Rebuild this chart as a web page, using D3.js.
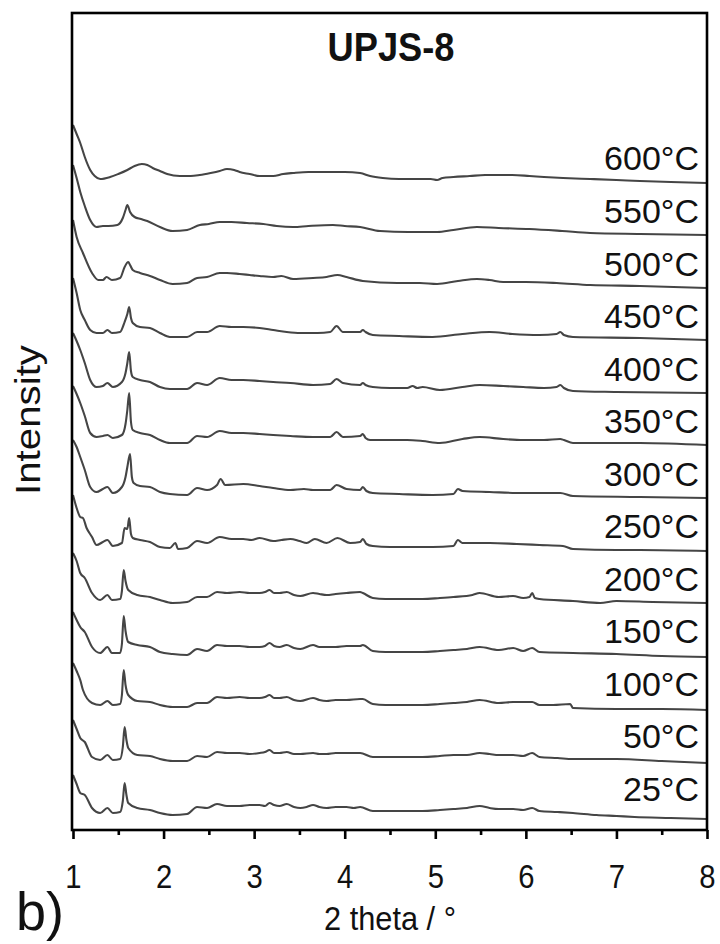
<!DOCTYPE html>
<html>
<head>
<meta charset="utf-8">
<script src="https://cdn.jsdelivr.net/npm/d3@7"></script>
<style>
  html, body { margin: 0; padding: 0; background: #fff; }
  svg { display: block; font-family: "Liberation Sans", Arial, sans-serif; }
</style>
</head>
<body>
<svg id="chart" width="720" height="944"></svg>
<script>
// ---------------- DATA ----------------
const temperatures = ["25°C","50°C","100°C","150°C","200°C","250°C","300°C","350°C","400°C","450°C","500°C","550°C","600°C"];
const offsets = [0, 53, 106, 159, 212, 265, 318, 371, 424, 477, 530, 583, 636];
const xTicks = [1, 2, 3, 4, 5, 6, 7, 8];
const xMinorTicks = [1.5, 2.5, 3.5, 4.5, 5.5, 6.5, 7.5];

const pattern25 = [[1.00,40],[1.04,31],[1.08,22],[1.13,20],[1.21,7],[1.30,2],[1.38,7],[1.44,2],[1.52,3],[1.55,14],[1.57,32],[1.59,20],[1.61,12],[1.71,7],[1.85,5],[1.96,2],[2.10,0],[2.26,1],[2.37,8],[2.48,7],[2.59,11],[2.70,9],[2.84,9],[2.95,10],[3.06,10],[3.12,9],[3.17,12],[3.22,10],[3.28,9],[3.36,11],[3.44,8],[3.51,7],[3.58,8],[3.65,10],[3.72,8],[3.80,7],[3.90,8],[4.02,8],[4.10,7],[4.17,8],[4.31,4],[4.45,4],[4.60,4],[4.72,4],[4.86,4],[5.05,5],[5.20,6],[5.35,7],[5.49,9],[5.60,7],[5.70,6],[5.86,6],[5.97,5],[6.07,7],[6.15,4],[6.35,3],[6.52,2],[6.78,0],[7.00,-1],[7.20,-2],[7.60,-3],[8.00,-4]];
const pattern50 = [[1.00,42],[1.04,33],[1.08,24],[1.13,20],[1.21,5],[1.30,2],[1.38,7],[1.44,2],[1.52,3],[1.55,15],[1.57,35],[1.59,22],[1.61,14],[1.71,7],[1.85,6],[1.96,3],[2.10,1],[2.26,1],[2.37,6],[2.48,5],[2.59,10],[2.70,9],[2.84,9],[2.95,8],[3.06,9],[3.12,10],[3.17,12],[3.22,9],[3.28,9],[3.36,10],[3.44,8],[3.51,8],[3.65,9],[3.72,8],[3.80,8],[3.90,9],[4.02,9],[4.17,9],[4.31,5],[4.45,5],[4.60,5],[4.86,5],[5.05,6],[5.20,7],[5.35,7],[5.49,9],[5.60,8],[5.70,7],[5.86,7],[5.97,6],[6.07,9],[6.15,5],[6.35,4],[6.52,3],[7.00,3],[7.50,1],[8.00,-1]];
const pattern100 = [[1.00,46],[1.04,38],[1.08,29],[1.11,19],[1.21,6],[1.30,4],[1.38,8],[1.44,4],[1.52,5],[1.54,14],[1.56,39],[1.58,24],[1.61,14],[1.71,8],[1.85,7],[1.96,4],[2.10,2],[2.26,2],[2.37,6],[2.48,6],[2.59,12],[2.70,11],[2.84,12],[2.95,11],[3.06,11],[3.12,12],[3.17,14],[3.22,11],[3.28,11],[3.36,12],[3.44,9],[3.51,8],[3.65,11],[3.72,9],[3.80,8],[3.90,9],[4.02,9],[4.17,10],[4.20,10],[4.31,5],[4.45,4],[4.60,4],[4.86,4],[5.05,5],[5.20,6],[5.35,7],[5.49,9],[5.70,6],[5.86,7],[6.07,7],[6.15,4],[6.30,4],[6.49,5],[6.52,1],[7.00,0],[7.50,0],[8.00,-1]];
const pattern150 = [[1.00,44],[1.04,36],[1.08,29],[1.13,24],[1.21,9],[1.30,3],[1.38,9],[1.43,3],[1.52,3],[1.54,12],[1.56,40],[1.58,25],[1.61,14],[1.71,11],[1.85,9],[1.96,4],[2.10,2],[2.26,1],[2.37,7],[2.48,5],[2.59,11],[2.70,10],[2.84,10],[2.95,9],[3.06,9],[3.12,10],[3.17,13],[3.22,10],[3.28,9],[3.36,11],[3.44,8],[3.51,7],[3.65,11],[3.72,9],[3.80,9],[3.90,9],[4.02,10],[4.17,10],[4.20,11],[4.31,5],[4.45,4],[4.60,4],[4.86,4],[5.05,5],[5.20,6],[5.35,7],[5.49,9],[5.70,6],[5.86,8],[5.97,5],[6.07,8],[6.15,4],[6.52,3],[7.00,2],[7.50,0],[8.00,-1]];
const pattern200 = [[1.00,50],[1.04,42],[1.08,30],[1.13,25],[1.21,10],[1.30,3],[1.38,8],[1.43,3],[1.52,4],[1.54,12],[1.56,33],[1.58,22],[1.61,13],[1.71,8],[1.85,6],[1.96,3],[2.10,0],[2.26,1],[2.37,6],[2.48,6],[2.59,11],[2.70,10],[2.84,11],[2.95,10],[3.06,10],[3.12,11],[3.17,13],[3.22,10],[3.28,10],[3.36,11],[3.44,8],[3.51,7],[3.65,10],[3.72,9],[3.80,8],[3.90,9],[4.02,10],[4.17,11],[4.20,10],[4.31,5],[4.45,4],[4.60,4],[4.86,4],[5.05,5],[5.20,6],[5.41,8],[5.49,10],[5.70,6],[5.86,7],[5.97,5],[6.04,6],[6.07,10],[6.10,5],[6.15,4],[6.52,2],[6.82,0],[7.00,2],[7.40,1],[8.00,0]];
const pattern250 = [[1.00,55],[1.04,42],[1.08,33],[1.11,32],[1.15,22],[1.21,13],[1.26,5],[1.33,8],[1.38,10],[1.44,4],[1.54,7],[1.57,22],[1.60,21],[1.62,32],[1.64,16],[1.66,12],[1.74,10],[1.85,8],[1.96,3],[2.07,2],[2.13,7],[2.16,1],[2.26,2],[2.37,9],[2.48,7],[2.62,13],[2.75,11],[2.88,11],[2.97,10],[3.06,12],[3.21,9],[3.30,10],[3.40,11],[3.50,9],[3.58,7],[3.67,11],[3.80,7],[3.92,12],[4.06,7],[4.17,8],[4.20,11],[4.24,6],[4.31,4],[4.50,3],[4.69,3],[4.97,3],[5.20,4],[5.25,10],[5.30,7],[5.45,7],[5.60,7],[5.90,6],[6.15,5],[6.41,4],[6.52,1],[7.00,0],[7.26,0],[8.00,-1]];
const pattern300 = [[1.00,57],[1.04,50],[1.08,40],[1.13,27],[1.19,10],[1.26,5],[1.33,8],[1.38,10],[1.44,4],[1.54,10],[1.58,20],[1.60,30],[1.63,43],[1.65,20],[1.67,14],[1.74,11],[1.85,10],[1.96,5],[2.07,3],[2.26,2],[2.37,9],[2.48,7],[2.59,12],[2.63,18],[2.68,12],[2.88,13],[3.06,11],[3.21,9],[3.40,7],[3.55,8],[3.65,7],[3.84,7],[3.91,12],[4.02,8],[4.17,7],[4.20,10],[4.24,6],[4.31,4],[4.60,3],[4.97,2],[5.20,3],[5.25,8],[5.30,6],[5.60,5],[5.97,4],[6.20,4],[6.38,4],[6.52,1],[7.26,0],[8.00,-1]];
const pattern350 = [[1.00,58],[1.04,50],[1.08,41],[1.13,28],[1.19,11],[1.26,7],[1.33,8],[1.38,9],[1.44,6],[1.54,9],[1.58,20],[1.60,34],[1.62,51],[1.64,22],[1.66,14],[1.74,11],[1.85,9],[1.96,4],[2.07,1],[2.26,1],[2.37,8],[2.48,7],[2.62,13],[2.75,11],[2.88,11],[3.06,10],[3.21,9],[3.40,8],[3.65,7],[3.84,7],[3.91,12],[3.98,7],[4.17,8],[4.20,10],[4.23,6],[4.28,4],[4.50,4],[4.69,4],[4.86,3],[5.05,1],[5.30,5],[5.49,7],[5.75,5],[5.97,4],[6.20,4],[6.38,5],[6.42,4],[6.52,1],[7.26,1],[8.00,-1]];
const pattern400 = [[1.00,58],[1.04,50],[1.08,41],[1.13,28],[1.19,11],[1.26,4],[1.33,5],[1.38,8],[1.44,4],[1.54,9],[1.58,18],[1.60,28],[1.62,39],[1.64,20],[1.66,14],[1.74,11],[1.85,9],[1.96,4],[2.07,2],[2.26,2],[2.37,8],[2.48,6],[2.62,13],[2.75,11],[2.88,11],[3.06,10],[3.21,9],[3.40,8],[3.65,6],[3.84,7],[3.91,12],[3.98,8],[4.17,6],[4.20,8],[4.23,6],[4.31,4],[4.50,3],[4.69,3],[4.75,5],[4.80,3],[4.86,4],[5.05,1],[5.30,4],[5.49,6],[5.75,5],[5.97,4],[6.20,3],[6.34,4],[6.38,6],[6.42,3],[6.52,0],[7.00,-1],[8.00,-2]];
const pattern450 = [[1.00,60],[1.04,45],[1.08,28],[1.13,18],[1.19,8],[1.26,5],[1.33,5],[1.38,8],[1.43,5],[1.52,6],[1.57,16],[1.60,24],[1.62,31],[1.64,20],[1.66,15],[1.74,11],[1.85,10],[1.96,5],[2.07,1],[2.26,1],[2.37,6],[2.48,6],[2.62,12],[2.75,11],[2.88,11],[3.06,10],[3.21,8],[3.36,6],[3.51,5],[3.70,5],[3.84,6],[3.91,12],[3.98,6],[4.17,6],[4.20,8],[4.23,6],[4.31,3],[4.60,2],[4.97,1],[5.30,4],[5.60,6],[5.85,4],[6.15,3],[6.34,4],[6.38,6],[6.42,3],[6.52,1],[7.26,0],[8.00,-2]];
const pattern500 = [[1.00,65],[1.04,48],[1.11,32],[1.21,12],[1.28,5],[1.33,5],[1.37,8],[1.43,5],[1.52,7],[1.57,18],[1.61,23],[1.63,20],[1.66,15],[1.74,12],[1.85,9],[1.96,5],[2.10,1],[2.26,2],[2.37,7],[2.48,8],[2.62,12],[2.70,12],[2.84,11],[2.95,10],[3.06,9],[3.21,8],[3.30,9],[3.43,6],[3.65,7],[3.80,8],[3.92,10],[4.02,8],[4.20,4],[4.58,2],[4.83,2],[5.02,1],[5.25,4],[5.46,6],[5.60,5],[5.75,3],[6.00,3],[6.34,2],[6.71,0],[7.26,-1],[8.00,-3]];
const pattern550 = [[1.00,67],[1.04,54],[1.08,40],[1.13,26],[1.19,12],[1.26,5],[1.33,6],[1.39,6],[1.49,7],[1.55,14],[1.58,22],[1.60,27],[1.63,20],[1.68,15],[1.75,13],[1.82,11],[1.96,5],[2.10,1],[2.26,2],[2.40,7],[2.50,8],[2.62,10],[2.75,10],[2.92,9],[3.10,8],[3.25,6],[3.43,5],[3.60,6],[3.87,7],[4.00,6],[4.17,5],[4.39,1],[4.70,0],[5.02,0],[5.20,2],[5.46,5],[5.70,4],[6.04,3],[6.40,1],[6.71,-1],[7.26,-2],[8.00,-3]];
const pattern600 = [[1.00,54],[1.04,45],[1.08,36],[1.13,22],[1.19,9],[1.24,3],[1.30,0],[1.41,2],[1.50,5],[1.60,9],[1.68,13],[1.76,15],[1.82,14],[1.88,11],[1.96,8],[2.04,5],[2.18,3],[2.30,3],[2.40,4],[2.52,6],[2.62,8],[2.70,10],[2.78,9],[2.84,7],[2.95,5],[3.06,3],[3.21,3],[3.32,5],[3.43,6],[3.60,7],[3.80,7],[4.00,7],[4.17,6],[4.28,3],[4.42,1],[4.60,0],[4.75,0],[4.95,0],[5.02,-1],[5.08,1],[5.20,2],[5.38,3],[5.55,4],[5.68,4],[5.85,4],[6.04,3],[6.20,2],[6.41,1],[6.71,0],[7.00,-1],[7.26,-2],[7.60,-3],[8.00,-4]];

const patterns = [pattern25, pattern50, pattern100, pattern150, pattern200, pattern250, pattern300, pattern350, pattern400, pattern450, pattern500, pattern550, pattern600];

// ---------------- CHART ----------------
const svg = d3.select("#chart");
const mLeft = 73, mRight = 707, mTop = 13, mBottom = 830;

const x = d3.scaleLinear().domain([1, 8]).range([mLeft, mRight]);
const y = d3.scaleLinear().domain([-15, 800]).range([mBottom, 15]);

const line = d3.line()
  .x(d => x(d[0]))
  .y(d => y(d[1]))
  .curve(d3.curveMonotoneX);

const curves = svg.append("g");
patterns.forEach((p, i) => {
  const shifted = p.map(d => [d[0], d[1] + offsets[i]]);
  curves.append("path")
    .datum(shifted)
    .attr("d", line)
    .attr("fill", "none")
    .attr("stroke", "#454545")
    .attr("stroke-width", 2.1)
    .attr("stroke-linejoin", "round");
});

// labels
svg.append("g").selectAll("text")
  .data(temperatures)
  .join("text")
  .attr("x", 699)
  .attr("y", (d, i) => y(offsets[i]) - 14 + 0.45 * i)
  .attr("text-anchor", "end")
  .attr("font-size", 34)
  .attr("fill", "#111")
  .text(d => d);

// frame
svg.append("rect")
  .attr("x", mLeft - 1).attr("y", mTop)
  .attr("width", mRight - mLeft + 1).attr("height", mBottom - mTop)
  .attr("fill", "none").attr("stroke", "#000").attr("stroke-width", 2.6);

// x axis
const xAxis = d3.axisBottom(x).tickValues(xTicks).tickSize(9).tickPadding(25).tickFormat(d3.format("d"));
const gx = svg.append("g").attr("transform", `translate(0,${mBottom})`).call(xAxis);
gx.select(".domain").remove();
gx.selectAll(".tick line").attr("stroke", "#000").attr("stroke-width", 2.6);
gx.selectAll(".tick text").attr("font-size", 34).attr("fill", "#111")
  .attr("font-family", "Liberation Sans, Arial, sans-serif")
  .attr("transform", "scale(0.86,1)");

const xMinor = d3.axisBottom(x).tickValues(xMinorTicks).tickSize(5).tickFormat("");
const gm = svg.append("g").attr("transform", `translate(0,${mBottom})`).call(xMinor);
gm.select(".domain").remove();
gm.selectAll(".tick line").attr("stroke", "#000").attr("stroke-width", 2.6);

// title
svg.append("text")
  .attr("x", 391).attr("y", 61)
  .attr("text-anchor", "middle")
  .attr("font-size", 40).attr("font-weight", "bold")
  .attr("fill", "#111")
  .attr("textLength", 127).attr("lengthAdjust", "spacingAndGlyphs")
  .text("UPJS-8");

// axis titles
svg.append("text")
  .attr("transform", "translate(40,420) rotate(-90)")
  .attr("text-anchor", "middle")
  .attr("font-size", 35).attr("fill", "#111")
  .attr("textLength", 150).attr("lengthAdjust", "spacingAndGlyphs")
  .text("Intensity");

svg.append("text")
  .attr("x", 390).attr("y", 930)
  .attr("text-anchor", "middle")
  .attr("font-size", 34).attr("fill", "#111")
  .attr("textLength", 132).attr("lengthAdjust", "spacingAndGlyphs")
  .text("2 theta / °");

svg.append("text")
  .attr("x", 16).attr("y", 930)
  .attr("font-size", 54).attr("fill", "#111")
  .text("b)");
</script>
</body>
</html>
